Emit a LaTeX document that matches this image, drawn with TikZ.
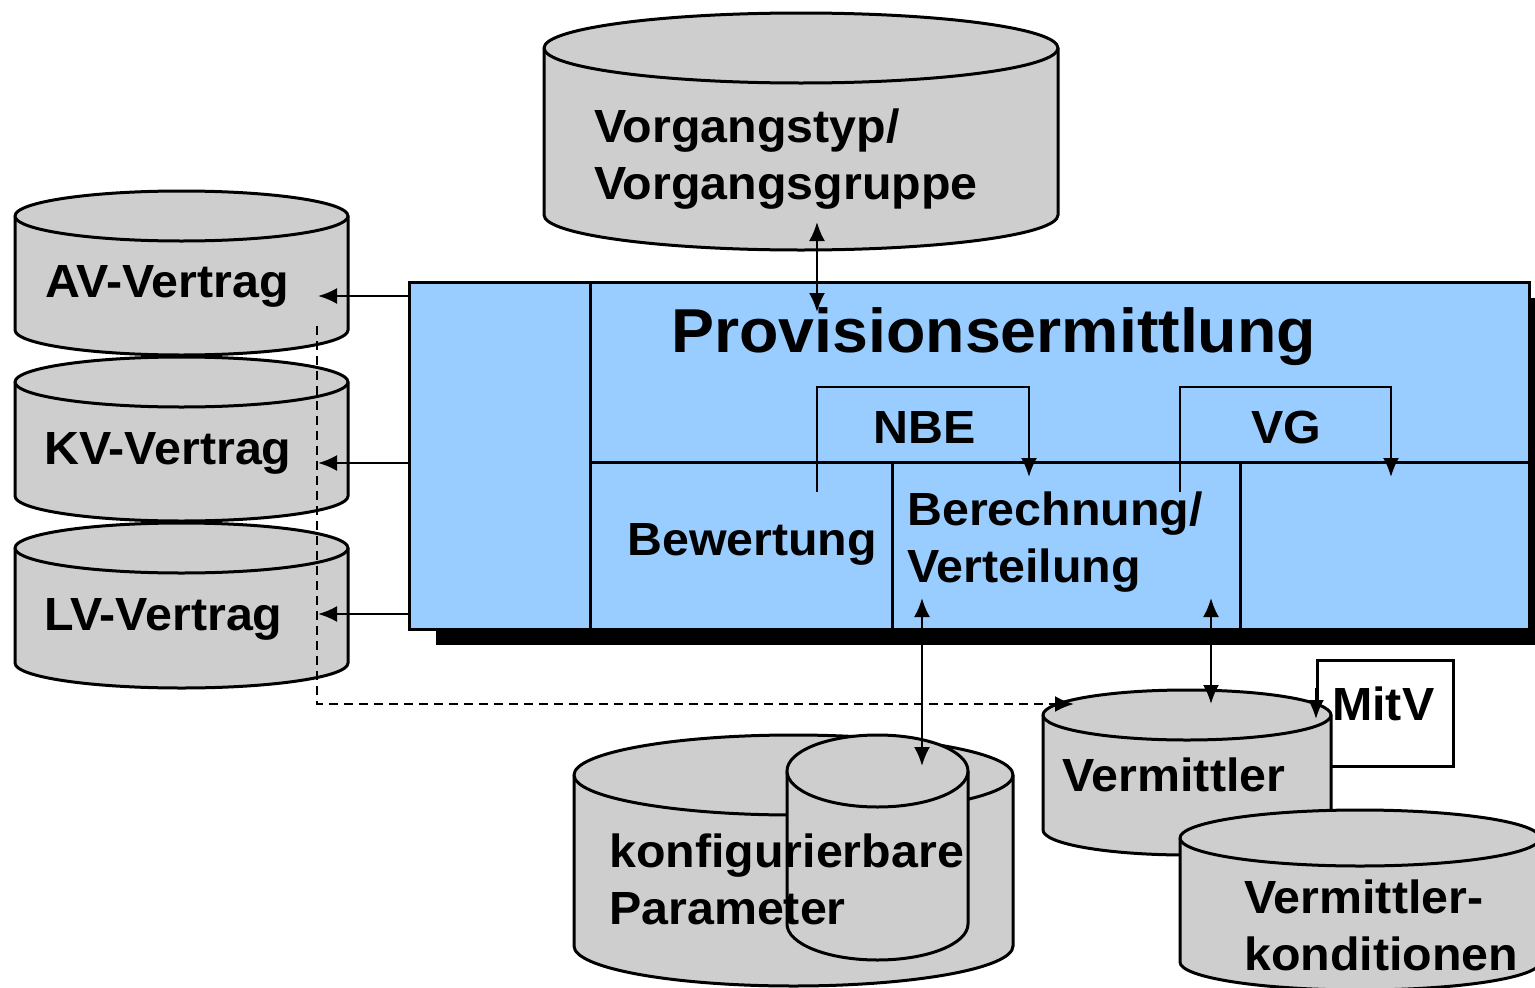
\documentclass[tikz,border=0pt]{standalone}
\usepackage{fontspec}
\setmainfont[FakeStretch=1.04]{Liberation Sans}
\usetikzlibrary{arrows.meta}
\definecolor{boxblue}{RGB}{153,204,255}
\definecolor{cylgray}{RGB}{206,206,206}
\newcommand{\dbcyl}[6]{% name x1 x2 ytop ybot ry
  \pgfmathsetmacro{\cylrx}{(#3-#2)/2}
  \filldraw[cyl] (#2,#4) -- (#2,#5) arc[start angle=180,end angle=360,x radius=\cylrx*1pt,y radius=#6*1pt] -- (#3,#4) arc[start angle=0,end angle=180,x radius=\cylrx*1pt,y radius=#6*1pt] -- cycle;
  \draw[cyl] (#2,#4) arc[start angle=180,end angle=360,x radius=\cylrx*1pt,y radius=#6*1pt];
  \coordinate (#1) at ({(#2+#3)/2},{(#4+#5)/2});
}
\newcommand{\opencyl}[6]{% name x1 x2 ytop ybot ry (outline only)
  \pgfmathsetmacro{\cylrx}{(#3-#2)/2}
  \draw[cyl] (#2,#4) -- (#2,#5) arc[start angle=180,end angle=360,x radius=\cylrx*1pt,y radius=#6*1pt] -- (#3,#4) arc[start angle=0,end angle=180,x radius=\cylrx*1pt,y radius=#6*1pt] -- cycle;
  \draw[cyl] (#2,#4) arc[start angle=180,end angle=360,x radius=\cylrx*1pt,y radius=#6*1pt];
  \coordinate (#1) at ({(#2+#3)/2},{(#4+#5)/2});
}
\begin{document}
\begin{tikzpicture}[x=1pt,y=-1pt,
  cyl/.style={draw=black,fill=cylgray,line width=3pt},
  outl/.style={draw=black,line width=3pt},
  lbl/.style={inner sep=0pt,anchor=base west,font=\fontsize{46.5}{57}\selectfont\bfseries,align=left},
  title/.style={inner sep=0pt,anchor=base west,font=\fontsize{62}{70}\selectfont\bfseries},
  tip/.tip={Latex[length=19pt,width=16pt]},
  conn/.style={line width=2.4pt,-tip},
  biconn/.style={line width=2.4pt,tip-tip},
  dashconn/.style={line width=2.4pt,dash pattern=on 9pt off 6pt,-tip}]
\useasboundingbox (0,0) rectangle (1535,988);
\fill[white] (0,0) rectangle (1535,988);

% databases
\dbcyl{vgdb}{544}{1058}{48}{215}{35}
\dbcyl{avdb}{15}{348}{216}{330}{25}
\dbcyl{kvdb}{15}{348}{382}{496}{25}
\dbcyl{lvdb}{15}{348}{548}{663}{25}

% main block with shadow
\fill[black] (436,298) rectangle (1560,645);
\node[outl,fill=boxblue,anchor=north west,minimum width=1120pt,minimum height=347pt,inner sep=0pt] (prov) at (408,281) {};
\draw[outl] (590,281) -- (590,628);
\draw[outl] (590,462) -- (1528,462);
\draw[outl] (892,462) -- (892,628);
\draw[outl] (1240,462) -- (1240,628);

% MitV box, Vermittler databases
\node[draw=black,fill=white,line width=2.6pt,anchor=north west,minimum width=136pt,minimum height=106pt,inner sep=0pt] (mitvbox) at (1316,659) {};
\dbcyl{verdb}{1043}{1331}{715}{830}{25}
\dbcyl{kondb}{1180}{1540}{838}{962}{28}

% configurable parameters
\dbcyl{pardb}{574}{1013}{775}{946}{40}
\opencyl{parsmall}{787}{968}{771}{924}{36}

% texts (multi-line nodes: base is the last line)
\node[lbl] (tvg) at (594,199) {Vorgangstyp/\\Vorgangsgruppe};
\node[lbl] (tav) at (45,297) {AV-Vertrag};
\node[lbl] (tkv) at (44,464) {KV-Vertrag};
\node[lbl] (tlv) at (44,630) {LV-Vertrag};
\node[title] (tprov) at (671,352) {Provisionsermittlung};
\node[lbl] (tnbe) at (873,443) {NBE};
\node[lbl] (tvgr) at (1251,443) {VG};
\node[lbl] (tbew) at (627,555) {Bewertung};
\node[lbl] (tber) at (907,582) {Berechnung/\\Verteilung};
\node[lbl] (tpar) at (609,924) {konfigurierbare\\Parameter};
\node[lbl] (tver) at (1062,791) {Vermittler};
\node[lbl] (tmitv) at (1332,720) {MitV};
\node[lbl] (tkon) at (1244,970) {Vermittler-\\konditionen};

% connector end points
\coordinate (vgA) at (817,222);
\coordinate (vgB) at (817,312);
\coordinate (avA) at (408,296);
\coordinate (avB) at (318,296);
\coordinate (kvA) at (408,463);
\coordinate (kvB) at (318,463);
\coordinate (lvA) at (408,614);
\coordinate (lvB) at (318,614);
\coordinate (nbeA) at (817,492);
\coordinate (nbe1) at (817,387);
\coordinate (nbe2) at (1029,387);
\coordinate (nbeB) at (1029,477);
\coordinate (vgrA) at (1180,492);
\coordinate (vgr1) at (1180,387);
\coordinate (vgr2) at (1391,387);
\coordinate (vgrB) at (1391,477);
\coordinate (parA) at (922,598);
\coordinate (parB) at (922,766);
\coordinate (verA) at (1211,598);
\coordinate (verB) at (1211,704);
\coordinate (mitvA) at (1316,688);
\coordinate (mitvB) at (1316,719);
\coordinate (dashA) at (317,326);
\coordinate (dash1) at (317,704);
\coordinate (dashB) at (1074,704);

% connectors
\draw[biconn] (vgA) -- (vgB);
\draw[conn] (avA) -- (avB);
\draw[conn] (kvA) -- (kvB);
\draw[conn] (lvA) -- (lvB);
\draw[conn] (nbeA) -- (nbe1) -- (nbe2) -- (nbeB);
\draw[conn] (vgrA) -- (vgr1) -- (vgr2) -- (vgrB);
\draw[biconn] (parA) -- (parB);
\draw[biconn] (verA) -- (verB);
\draw[conn] (mitvA) -- (mitvB);
\draw[dashconn] (dashA) -- (dash1) -- (dashB);
\end{tikzpicture}
\end{document}
